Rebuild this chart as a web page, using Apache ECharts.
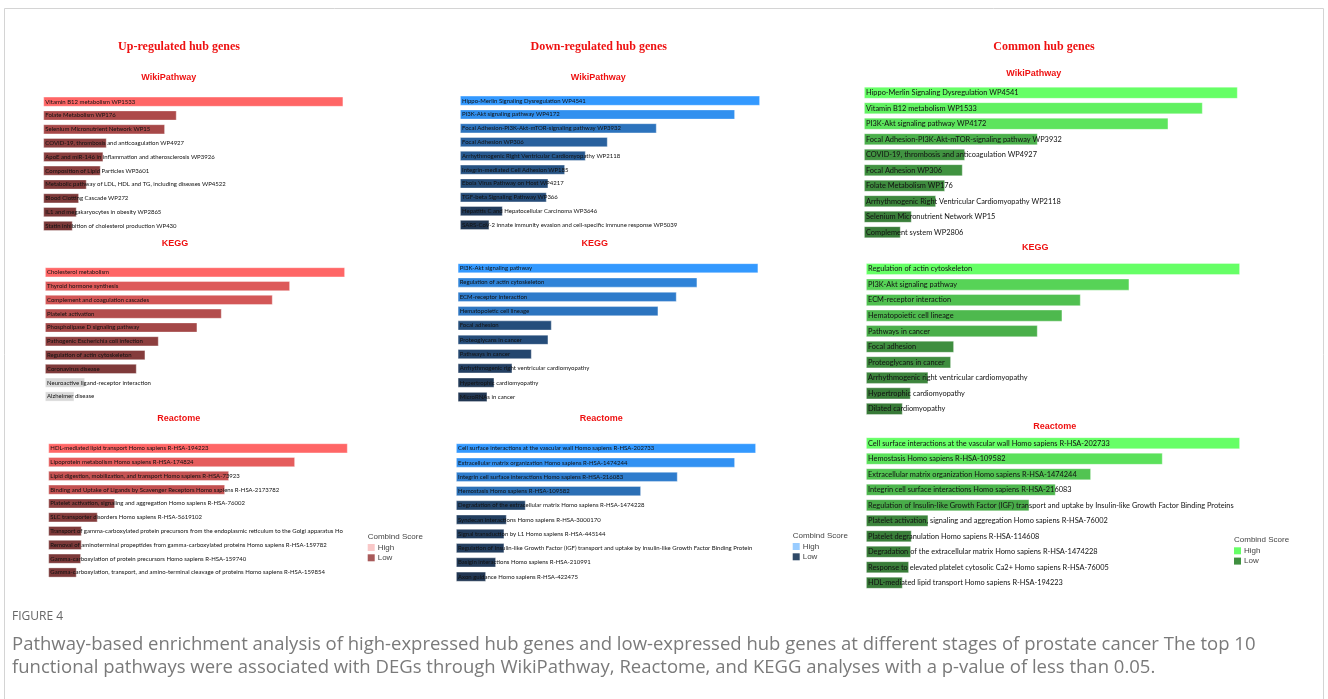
<!DOCTYPE html>
<html>
<head>
<meta charset="utf-8">
<script src="https://cdn.jsdelivr.net/npm/echarts@6/dist/echarts.min.js"></script>
<style>
  html, body { margin: 0; padding: 0; background: #fff; }
  #chart { width: 1328px; height: 699px; }
</style>
</head>
<body>
<div id="chart"></div>
<script>
// ---- data (combined score) ----
const upWikiNames = ["Vitamin B12 metabolism WP1533", "Folate Metabolism WP176", "Selenium Micronutrient Network WP15", "COVID-19, thrombosis and anticoagulation WP4927", "ApoE and miR-146 in inflammation and atherosclerosis WP3926", "Composition of Lipid Particles WP3601", "Metabolic pathway of LDL, HDL and TG, including diseases WP4522", "Blood Clotting Cascade WP272", "IL1 and megakaryocytes in obesity WP2865", "Statin inhibition of cholesterol production WP430"];
const upWikiScores = [900, 400, 365, 190, 180, 172, 130, 107, 100, 88];

const upKeggNames = ["Cholesterol metabolism", "Thyroid hormone synthesis", "Complement and coagulation cascades", "Platelet activation", "Phospholipase D signaling pathway", "Pathogenic Escherichia coli infection", "Regulation of actin cytoskeleton", "Coronavirus disease", "Neuroactive ligand-receptor interaction", "Alzheimer disease"];
const upKeggScores = [900, 735, 683, 530, 457, 341, 301, 275, 120, 88];

const upReactomeNames = ["HDL-mediated lipid transport Homo sapiens R-HSA-194223", "Lipoprotein metabolism Homo sapiens R-HSA-174824", "Lipid digestion, mobilization, and transport Homo sapiens R-HSA-73923", "Binding and Uptake of Ligands by Scavenger Receptors Homo sapiens R-HSA-2173782", "Platelet activation, signaling and aggregation Homo sapiens R-HSA-76002", "SLC transporter disorders Homo sapiens R-HSA-5619102", "Transport of gamma-carboxylated protein precursors from the endoplasmic reticulum to the Golgi apparatus Homo sapiens R-HSA-159763", "Removal of aminoterminal propeptides from gamma-carboxylated proteins Homo sapiens R-HSA-159782", "Gamma-carboxylation of protein precursors Homo sapiens R-HSA-159740", "Gamma-carboxylation, transport, and amino-terminal cleavage of proteins Homo sapiens R-HSA-159854"];
const upReactomeScores = [898, 740, 542, 530, 200, 148, 100, 100, 98, 85];

const downWikiNames = ["Hippo-Merlin Signaling Dysregulation WP4541", "PI3K-Akt signaling pathway WP4172", "Focal Adhesion-PI3K-Akt-mTOR-signaling pathway WP3932", "Focal Adhesion WP306", "Arrhythmogenic Right Ventricular Cardiomyopathy WP2118", "Integrin-mediated Cell Adhesion WP185", "Ebola Virus Pathway on Host WP4217", "TGF-beta Signaling Pathway WP366", "Hepatitis C and Hepatocellular Carcinoma WP3646", "SARS-CoV-2 innate immunity evasion and cell-specific immune response WP5039"];
const downWikiScores = [900, 825, 590, 443, 377, 315, 265, 260, 128, 88];

const downKeggNames = ["PI3K-Akt signaling pathway", "Regulation of actin cytoskeleton", "ECM-receptor interaction", "Hematopoietic cell lineage", "Focal adhesion", "Proteoglycans in cancer", "Pathways in cancer", "Arrhythmogenic right ventricular cardiomyopathy", "Hypertrophic cardiomyopathy", "MicroRNAs in cancer"];
const downKeggScores = [902, 719, 657, 602, 282, 272, 222, 164, 110, 89];

const downReactomeNames = ["Cell surface interactions at the vascular wall Homo sapiens R-HSA-202733", "Extracellular matrix organization Homo sapiens R-HSA-1474244", "Integrin cell surface interactions Homo sapiens R-HSA-216083", "Hemostasis Homo sapiens R-HSA-109582", "Degradation of the extracellular matrix Homo sapiens R-HSA-1474228", "Syndecan interactions Homo sapiens R-HSA-3000170", "Signal transduction by L1 Homo sapiens R-HSA-445144", "Regulation of Insulin-like Growth Factor (IGF) transport and uptake by Insulin-like Growth Factor Binding Proteins (IGFBPs) Homo sapiens R-HSA-381426", "Basigin interactions Homo sapiens R-HSA-210991", "Axon guidance Homo sapiens R-HSA-422475"];
const downReactomeScores = [900, 837, 665, 555, 209, 152, 145, 145, 120, 90];

const commonWikiNames = ["Hippo-Merlin Signaling Dysregulation WP4541", "Vitamin B12 metabolism WP1533", "PI3K-Akt signaling pathway WP4172", "Focal Adhesion-PI3K-Akt-mTOR-signaling pathway WP3932", "COVID-19, thrombosis and anticoagulation WP4927", "Focal Adhesion WP306", "Folate Metabolism WP176", "Arrhythmogenic Right Ventricular Cardiomyopathy WP2118", "Selenium Micronutrient Network WP15", "Complement system WP2806"];
const commonWikiScores = [1121, 1016, 913, 521, 303, 296, 243, 216, 143, 110];

const commonKeggNames = ["Regulation of actin cytoskeleton", "PI3K-Akt signaling pathway", "ECM-receptor interaction", "Hematopoietic cell lineage", "Pathways in cancer", "Focal adhesion", "Proteoglycans in cancer", "Arrhythmogenic right ventricular cardiomyopathy", "Hypertrophic cardiomyopathy", "Dilated cardiomyopathy"];
const commonKeggScores = [1122, 790, 644, 589, 515, 264, 255, 187, 134, 110];

const commonReactomeNames = ["Cell surface interactions at the vascular wall Homo sapiens R-HSA-202733", "Hemostasis Homo sapiens R-HSA-109582", "Extracellular matrix organization Homo sapiens R-HSA-1474244", "Integrin cell surface interactions Homo sapiens R-HSA-216083", "Regulation of Insulin-like Growth Factor (IGF) transport and uptake by Insulin-like Growth Factor Binding Proteins (IGFBPs) Homo sapiens R-HSA-381426", "Platelet activation, signaling and aggregation Homo sapiens R-HSA-76002", "Platelet degranulation Homo sapiens R-HSA-114608", "Degradation of the extracellular matrix Homo sapiens R-HSA-1474228", "Response to elevated platelet cytosolic Ca2+ Homo sapiens R-HSA-76005", "HDL-mediated lipid transport Homo sapiens R-HSA-194223"];
const commonReactomeScores = [1122, 890, 675, 569, 490, 187, 137, 135, 129, 110];

const columnTitles = ["Up-regulated hub genes", "Down-regulated hub genes", "Common hub genes"];
const legendTitle = "Combind Score";
const legendLabels = ["High", "Low"];
const figureLabel = "FIGURE 4";
const captionLines = [
  "Pathway-based enrichment analysis of high-expressed hub genes and low-expressed hub genes at different stages of prostate cancer The top 10",
  "functional pathways were associated with DEGs through WikiPathway, Reactome, and KEGG analyses with a p-value of less than 0.05."
];

// colour scales: [low, high], legend swatches [high, low]
const palettes = {
  up: { low: "#7a3838", high: "#ff6666", legend: ["#f9c8c8", "#a85a5a"] },
  down: { low: "#213652", high: "#3399ff", legend: ["#99ccff", "#2f4a68"] },
  common: { low: "#387a38", high: "#66ff66", legend: ["#66ff66", "#3f8f3f"] }
};

const LABEL_FONT = "Lato, Roboto, sans-serif";

// panel layout (pixel boxes of each bar area)
const panels = [
  { names: upWikiNames, values: upWikiScores, pal: "up", title: "WikiPathway", x0: 43.3, x1: 343.3, top: 94.8, h: 138, bw: 10, fs: 6, tx: 168.7, ty: 77.3 },
  { names: upKeggNames, values: upKeggScores, pal: "up", title: "KEGG", x0: 45, x1: 345, top: 265.4, h: 138, bw: 10, fs: 6, tx: 175, ty: 243.3, floor: 250 },
  { names: upReactomeNames, values: upReactomeScores, pal: "up", title: "Reactome", x0: 48.3, x1: 347.7, top: 441.4, h: 138, bw: 10, fs: 6, tx: 178.8, ty: 419 },
  { names: downWikiNames, values: downWikiScores, pal: "down", title: "WikiPathway", x0: 460, x1: 760, top: 93.8, h: 138, bw: 10, fs: 6, tx: 598.3, ty: 77.7 },
  { names: downKeggNames, values: downKeggScores, pal: "down", title: "KEGG", x0: 457.7, x1: 758.3, top: 261.1, h: 143, bw: 10, fs: 6, tx: 594.7, ty: 244 },
  { names: downReactomeNames, values: downReactomeScores, pal: "down", title: "Reactome", x0: 456, x1: 756, top: 441.2, h: 142.6, bw: 10, fs: 6, tx: 601.3, ty: 418.3 },
  { names: commonWikiNames, values: commonWikiScores, pal: "common", title: "WikiPathway", x0: 864, x1: 1237.7, top: 85, h: 155, bw: 12, fs: 7.4, tx: 1033.7, ty: 73.3 },
  { names: commonKeggNames, values: commonKeggScores, pal: "common", title: "KEGG", x0: 866, x1: 1240, top: 261.2, h: 155.5, bw: 12, fs: 7.4, tx: 1035.3, ty: 247.3 },
  { names: commonReactomeNames, values: commonReactomeScores, pal: "common", title: "Reactome", x0: 866, x1: 1240, top: 435.5, h: 155, bw: 12, fs: 7.4, tx: 1054.7, ty: 426.7 }
];

const titlePos = [[179, 47.3], [598.7, 47], [1044, 46.7]];
const legendPos = [
  { x: 367.7, y: 536.7, pal: "up" },
  { x: 792.7, y: 535.7, pal: "down" },
  { x: 1234, y: 540, pal: "common" }
];

const chart = echarts.init(document.getElementById("chart"));

const grid = [], xAxis = [], yAxis = [], series = [], visualMap = [];
panels.forEach((p, i) => {
  const w = p.x1 - p.x0;
  grid.push({ left: p.x0, width: w, top: p.top, height: p.h, containLabel: false });
  xAxis.push({ type: "value", gridIndex: i, min: 0, max: "dataMax", show: false });
  yAxis.push({ type: "category", gridIndex: i, data: p.names, inverse: true, show: false });
  const pal = palettes[p.pal];
  const hi = Math.max(...p.values);
  const vm = {
    type: "continuous",
    show: false,
    seriesIndex: i,
    dimension: 0,
    min: Math.min(...p.values),
    max: hi,
    inRange: { color: [pal.low, pal.high] },
    outOfRange: { color: "#d9d9d9" }
  };
  if (p.floor !== undefined) {
    // scores under the floor are drawn grey
    vm.min = p.floor - 1;
    vm.range = [p.floor, hi];
  }
  visualMap.push(vm);
  series.push({
    type: "bar",
    xAxisIndex: i,
    yAxisIndex: i,
    barWidth: p.bw,
    encode: { x: 0, y: 1 },
    data: p.names.map((n, k) => [p.values[k], n]),
    silent: true,
    animation: false,
    itemStyle: { borderColor: "rgba(255,255,255,0.45)", borderWidth: 0.8 },
    label: {
      show: true,
      position: "insideLeft",
      distance: 2,
      formatter: (d) => d.value[1],
      color: "#111",
      fontFamily: LABEL_FONT,
      fontSize: p.fs,
      width: w - 3,
      overflow: "truncate",
      ellipsis: ""
    }
  });
});

const graphic = [];
// outer frame
graphic.push({
  type: "rect",
  shape: { x: 4.5, y: 8.5, width: 1319, height: 720 },
  style: { fill: null, stroke: "#d4d4d4", lineWidth: 1 },
  silent: true
});
columnTitles.forEach((t, i) => {
  graphic.push({
    type: "text", x: titlePos[i][0], y: titlePos[i][1],
    style: { text: t, fill: "#ee1111", font: "bold 12px 'Liberation Serif', 'Times New Roman', serif", textAlign: "center", textVerticalAlign: "middle" }
  });
});
panels.forEach((p) => {
  graphic.push({
    type: "text", x: p.tx, y: p.ty,
    style: { text: p.title, fill: "#ee1111", font: "bold 9px 'Liberation Sans', Arial, sans-serif", textAlign: "center", textVerticalAlign: "middle" }
  });
});
legendPos.forEach((l) => {
  const pal = palettes[l.pal];
  graphic.push({
    type: "text", x: l.x, y: l.y,
    style: { text: legendTitle, fill: "#444", font: "8px 'Liberation Sans', Arial, sans-serif", textVerticalAlign: "middle" }
  });
  legendLabels.forEach((lab, k) => {
    const cy = l.y + 10.8 + k * 10.3;
    graphic.push({
      type: "rect", shape: { x: l.x, y: cy - 3.5, width: 7, height: 7 },
      style: { fill: pal.legend[k] }
    });
    graphic.push({
      type: "text", x: l.x + 10, y: cy,
      style: { text: lab, fill: "#444", font: "8px 'Liberation Sans', Arial, sans-serif", textVerticalAlign: "middle" }
    });
  });
});
// caption
graphic.push({
  type: "text", x: 12, y: 617,
  style: { text: figureLabel, fill: "#666", font: "12px 'Open Sans', sans-serif", textVerticalAlign: "middle" }
});
captionLines.forEach((line, k) => {
  graphic.push({
    type: "text", x: 12, y: 645 + k * 22.5,
    style: { text: line, fill: "#7a7a7a", font: "18.5px 'Open Sans', sans-serif", textVerticalAlign: "middle" }
  });
});

chart.setOption({
  animation: false,
  backgroundColor: "#fff",
  grid, xAxis, yAxis, series, visualMap, graphic
});
</script>
</body>
</html>
